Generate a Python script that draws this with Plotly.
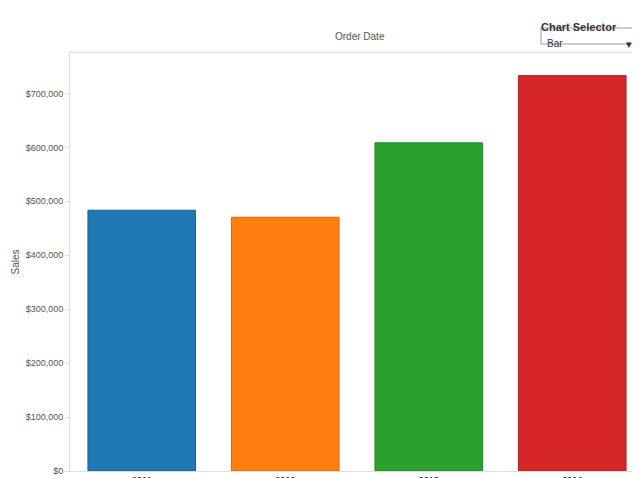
import plotly.graph_objs as go

years = ["2011", "2012", "2013", "2014"]
sales = [483500, 470500, 608500, 733000]
fill_colors = ["#1f77b4", "#ff7f0e", "#2ca02c", "#d62728"]
line_colors = ["#1a5f94", "#d9690b", "#238a23", "#b01f20"]
tick_vals = [0, 100000, 200000, 300000, 400000, 500000, 600000, 700000]
tick_text = ["$0", "$100,000", "$200,000", "$300,000", "$400,000", "$500,000", "$600,000", "$700,000"]

trace = go.Bar(
    x=years,
    y=sales,
    marker=dict(color=fill_colors, line=dict(color=line_colors, width=1)),
)

L, R, T, B = 62, 4, 45, 15
pw, ph = 640 - L - R, 478 - T - B


def px(x):
    return (x - L) / pw


def py(y):
    return (478 - B - y) / ph


layout = go.Layout(
    width=640, height=478,
    margin=dict(l=L, r=R, t=T, b=B, autoexpand=False),
    plot_bgcolor="white", paper_bgcolor="white",
    font=dict(family="Arial", color="#555"),
    bargap=0.25,
    showlegend=False,
    xaxis=dict(tickfont=dict(size=9, color="#333"), automargin=False,
               tickvals=years, ticktext=["<b>%s</b>" % y for y in years],
               showgrid=False, showline=True, linecolor="#ddd",
               mirror=True, ticks="", ticklen=0),
    yaxis=dict(title=dict(text="Sales", font=dict(size=10, color="#555"), standoff=4),
               automargin=False,
               range=[0, 775000], tickvals=tick_vals, ticktext=tick_text,
               tickfont=dict(size=9, color="#555"), showgrid=False,
               showline=True, linecolor="#ddd", mirror=True,
               ticks="outside", tickcolor="#ddd", ticklen=4, zeroline=False),
    annotations=[
        dict(text="Order Date", x=px(352), y=py(21), xref="paper", yref="paper",
             showarrow=False, font=dict(size=10, color="#555")),
        dict(text="<b>Chart Selector</b>", x=px(531), y=py(11), xref="paper", yref="paper",
             showarrow=False, xanchor="left", font=dict(size=11, color="#333")),
        dict(text="Bar", x=px(537), y=py(28), xref="paper", yref="paper",
             showarrow=False, xanchor="left", font=dict(size=10, color="#333")),
        dict(text="▾", x=px(626), y=py(28), xref="paper", yref="paper",
             showarrow=False, xanchor="right", font=dict(size=11, color="#333")),
    ],
)

fig = go.Figure(data=[trace], layout=layout)

fig.add_shape(type="rect", xref="paper", yref="paper",
              x0=px(533), x1=px(630), y0=py(36), y1=py(20),
              line=dict(color="#999", width=1), fillcolor="white", layer="below")

fig.write_html("out.html")
